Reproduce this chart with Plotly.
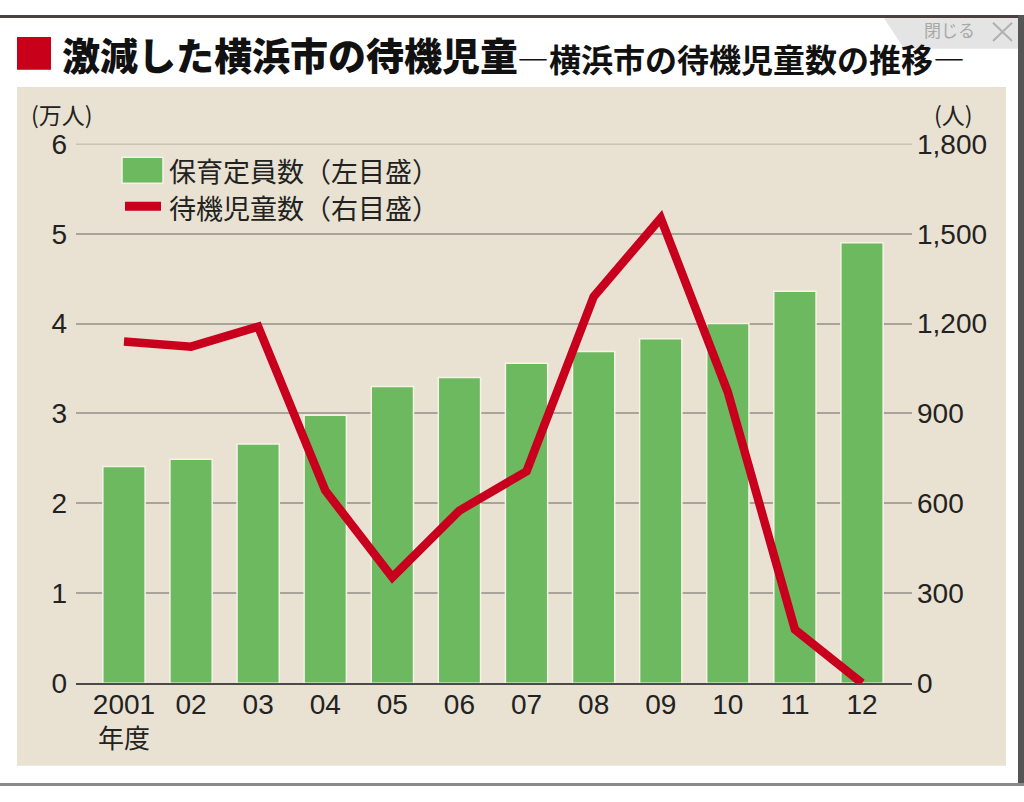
import plotly.graph_objects as go

# ---------------- data ----------------
years = ["2001", "02", "03", "04", "05", "06", "07", "08", "09", "10", "11", "12"]
capacity_10k = [2.41, 2.49, 2.66, 2.98, 3.30, 3.40, 3.56, 3.69, 3.83, 4.00, 4.36, 4.90]   # 保育定員数 (万人)
waiting = [1140, 1123, 1190, 643, 353, 576, 707, 1290, 1552, 971, 179, 0]               # 待機児童数 (人)
left_ticks = [0, 1, 2, 3, 4, 5, 6]
right_ticks = [0, 300, 600, 900, 1200, 1500, 1800]
right_ticktext = ["0", "300", "600", "900", "1,200", "1,500", "1,800"]

W, H = 1024, 802
def px(x):
    return x / W
def py(y):
    return 1 - y / H

BG = "#e9e2d2"
GREEN = "#6cb960"
RED = "#c8001e"
GRID = "#a9a49a"
FONT = "Liberation Sans, Arial, Noto Sans CJK JP, sans-serif"
JFONT = "Noto Sans CJK JP, sans-serif"

xpos = list(range(len(years)))

fig = go.Figure()
fig.add_trace(go.Bar(
    x=xpos, y=capacity_10k, width=0.63,
    marker=dict(color=GREEN, line=dict(color="#f6f2e8", width=1.5)),
    name="保育定員数（左目盛）", yaxis="y", showlegend=False,
))
fig.add_trace(go.Scatter(
    x=xpos, y=waiting, mode="lines",
    line=dict(color=RED, width=8.5),
    name="待機児童数（右目盛）", yaxis="y2", showlegend=False, cliponaxis=False,
))

shapes = []
# page frame bits
shapes.append(dict(type="rect", xref="paper", yref="paper", x0=0, x1=1, y0=py(3), y1=1,
                   fillcolor="#4a4040", line=dict(width=0), layer="below"))
shapes.append(dict(type="rect", xref="paper", yref="paper", x0=px(1018), x1=1, y0=0, y1=1,
                   fillcolor="#555555", line=dict(width=0), layer="below"))
shapes.append(dict(type="rect", xref="paper", yref="paper", x0=0, x1=1, y0=0, y1=py(799),
                   fillcolor="#8a8a8a", line=dict(width=0), layer="below"))
# beige panel
shapes.append(dict(type="rect", xref="paper", yref="paper", x0=px(17), x1=px(1006), y0=py(781), y1=py(75),
                   fillcolor=BG, line=dict(width=0), layer="below"))
# close button
shapes.append(dict(type="path", xref="paper", yref="paper",
                   path=f"M {px(884)},{py(3)} L {px(1018)},{py(3)} L {px(1018)},{py(35)} L {px(904)},{py(35)} Z",
                   fillcolor="#e4e4e4", line=dict(width=0), layer="below"))
shapes.append(dict(type="line", xref="paper", yref="paper", x0=px(993), x1=px(1012), y0=py(8), y1=py(27),
                   line=dict(color="#b0b0b0", width=2)))
shapes.append(dict(type="line", xref="paper", yref="paper", x0=px(993), x1=px(1012), y0=py(27), y1=py(8),
                   line=dict(color="#b0b0b0", width=2)))
# title red square
shapes.append(dict(type="rect", xref="paper", yref="paper", x0=px(17), x1=px(51), y0=py(57), y1=py(23),
                   fillcolor="#c8001a", line=dict(width=0), layer="below"))
# top gridline (plotly drops the gridline at the range edge)
shapes.append(dict(type="line", xref="paper", yref="y", x0=px(76), x1=px(912), y0=6, y1=6,
                   line=dict(color=GRID, width=1.5), layer="below"))
# legend markers
shapes.append(dict(type="rect", xref="paper", yref="paper", x0=px(122), x1=px(163), y0=py(175), y1=py(148),
                   fillcolor=GREEN, line=dict(color="#f6f2e8", width=1.5), layer="above"))
shapes.append(dict(type="line", xref="paper", yref="paper", x0=px(125), x1=px(161), y0=py(199), y1=py(199),
                   line=dict(color=RED, width=9), layer="above"))

annotations = [
    dict(text="激減した横浜市の待機児童", x=px(60), y=py(40), xref="paper", yref="paper",
         xanchor="left", yanchor="middle", showarrow=False,
         font=dict(family=JFONT, size=38, color="#111111", weight=900)),
    dict(text="―横浜市の待機児童数の推移―", x=px(515), y=py(45), xref="paper", yref="paper",
         xanchor="left", yanchor="middle", showarrow=False,
         font=dict(family=JFONT, size=32, color="#111111", weight=700)),
    dict(text="閉じる", x=px(922), y=py(15), xref="paper", yref="paper",
         xanchor="left", yanchor="middle", showarrow=False,
         font=dict(family=JFONT, size=17, color="#a8a8a8")),
    dict(text="(万人)", x=px(62), y=py(103), xref="paper", yref="paper",
         xanchor="center", yanchor="middle", showarrow=False,
         font=dict(family=JFONT, size=23, color="#222222")),
    dict(text="(人)", x=px(953), y=py(103), xref="paper", yref="paper",
         xanchor="center", yanchor="middle", showarrow=False,
         font=dict(family=JFONT, size=23, color="#222222")),
    dict(text="保育定員数（左目盛）", x=px(167), y=py(162), xref="paper", yref="paper",
         xanchor="left", yanchor="middle", showarrow=False,
         font=dict(family=JFONT, size=27, color="#222222")),
    dict(text="待機児童数（右目盛）", x=px(167), y=py(200), xref="paper", yref="paper",
         xanchor="left", yanchor="middle", showarrow=False,
         font=dict(family=JFONT, size=27, color="#222222")),
    dict(text="年度", x=0, y=py(750), xref="x", yref="paper",
         xanchor="center", yanchor="middle", showarrow=False,
         font=dict(family=JFONT, size=26, color="#222222")),
]

fig.update_layout(
    width=W, height=H,
    margin=dict(l=0, r=0, t=0, b=0),
    paper_bgcolor="white",
    plot_bgcolor="rgba(0,0,0,0)",
    showlegend=False,
    shapes=shapes,
    annotations=annotations,
    xaxis=dict(
        domain=[px(76), px(912)],
        range=[-0.715, 11.745],
        tickvals=xpos, ticktext=years,
        tickfont=dict(family=FONT, size=28, color="#222222"),
        showgrid=False, zeroline=False,
        showline=True, linecolor="#4a4a4a", linewidth=2,
        ticks="", ticklabelstandoff=-5,
        fixedrange=True,
    ),
    yaxis=dict(
        domain=[py(695), py(134)],
        range=[0, 6],
        tickvals=left_ticks,
        tickfont=dict(family=FONT, size=28, color="#222222"),
        showgrid=True, gridcolor=GRID, gridwidth=1.5,
        zeroline=False, ticks="", ticklabelstandoff=8,
        fixedrange=True,
    ),
    yaxis2=dict(
        domain=[py(695), py(134)],
        range=[0, 1800],
        overlaying="y", side="right",
        tickvals=right_ticks, ticktext=right_ticktext,
        tickfont=dict(family=FONT, size=28, color="#222222"),
        showgrid=False, zeroline=False, ticks="", ticklabelstandoff=4,
        fixedrange=True,
    ),
)

post = """
document.documentElement.style.margin = '0';
document.body.style.margin = '0';
"""

fig.write_html("out.html", post_script=post, config={"displayModeBar": False})
